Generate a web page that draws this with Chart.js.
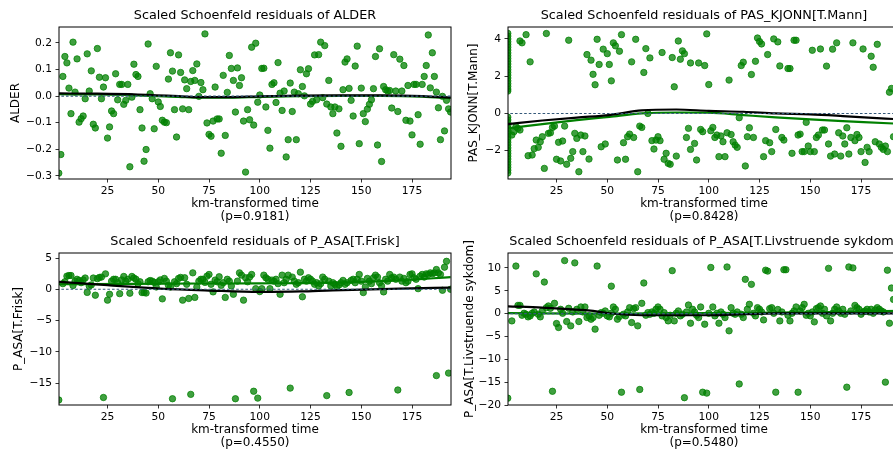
<!DOCTYPE html>
<html><head><meta charset="utf-8">
<script src="https://cdn.jsdelivr.net/npm/chart.js@4.4.1/dist/chart.umd.min.js"></script>
<style>
html,body{margin:0;padding:0;background:#fff;overflow:hidden;width:893px;height:452px;}
canvas{position:absolute;}
</style></head><body>
<canvas id="c0" width="460" height="226" style="left:0;top:0"></canvas>
<canvas id="c1" width="460" height="226" style="left:448px;top:0"></canvas>
<canvas id="c2" width="460" height="226" style="left:0;top:226px"></canvas>
<canvas id="c3" width="460" height="226" style="left:448px;top:226px"></canvas>
<script>
// ---------- tick labels ----------
const xTickVals = [25, 50, 75, 100, 125, 150, 175];
const yTicksAlder = [-0.3, -0.2, -0.1, 0.0, 0.1, 0.2];
const yTicksKjonn = [-2, 0, 2, 4];
const yTicksFrisk = [-15, -10, -5, 0, 5];
const yTicksLivs = [-20, -15, -10, -5, 0, 5, 10];

// ---------- ALDER (top-left) ----------
const alderStripY = [0.23,0.215,0.2,0.19,0.175,0.16,0.15,0.135,0.12,0.11,0.095,0.08,0.07,0.055,0.04,0.03,0.015,0.0,-0.01,-0.025,-0.04,-0.05,-0.065,-0.08,-0.09,-0.105,-0.12,-0.13,-0.145,-0.16,-0.17,-0.185,-0.2,-0.21,-0.225,-0.24,-0.25,-0.265,-0.28,-0.29];
const alderX = [2,3,4,5,6,7,8,9,10,11,12,13,14,15,16,17,18,19,20,21,22,23,24,25,26,27,28,29,30,31,32,33,34,35,36,37,38,39,40,41,42,43,44,45,46,47,48,49,50,51,52,53,54,55,56,57,58,59,60,61,62,63,64,65,66,67,68,69,70,71,72,73,74,75,76,77,78,79,80,81,82,83,84,85,86,87,88,89,90,91,92,93,94,95,96,97,98,99,100,101,102,103,104,105,106,107,108,109,110,111,112,113,114,115,116,117,118,119,120,121,122,123,124,125,126,127,128,129,130,131,132,133,134,135,136,137,138,139,140,141,142,143,144,145,146,147,148,149,150,151,152,153,154,155,156,157,158,159,160,161,162,163,164,165,166,167,168,169,170,171,172,173,174,175,176,177,178,179,180,181,182,183,184,185,186,187,188,189,190,191,192,193,194];
const alderY = [-0.22,0.074,0.149,0.125,0.03,-0.066,0.203,0.015,0.14,-0.098,-0.085,-0.075,-0.01,0.159,0.019,0.095,-0.106,-0.12,0.179,0.071,-0.01,0.034,0.069,-0.158,-0.116,-0.056,-0.066,0.084,-0.014,0.044,0.044,-0.031,-0.016,0.044,-0.266,-0.004,0.12,0.081,0.074,-0.051,-0.12,-0.245,-0.201,0.196,0.009,-0.01,-0.123,0.112,-0.022,-0.039,-0.091,-0.098,-0.1,0.064,0.163,0.094,-0.051,-0.154,0.155,0.089,-0.048,0.061,0.028,-0.051,0.055,0.096,0.059,0.121,-0.001,0.051,0.024,0.234,-0.101,-0.144,-0.151,-0.094,0.034,-0.086,-0.086,-0.215,0.078,-0.148,0.014,0.153,0.104,0.059,-0.06,0.106,0.04,0.069,-0.094,-0.286,-0.051,-0.089,0.184,-0.109,0.199,-0.023,0.004,0.104,0.105,-0.041,-0.129,-0.196,0.044,0.05,-0.024,0.126,0.011,-0.054,0.019,-0.229,-0.164,0.049,-0.058,0.015,-0.164,0.009,0.099,0.036,0.001,0.084,0.103,-0.03,-0.02,0.155,-0.014,0.156,0.203,-0.006,0.19,-0.03,0.059,-0.041,-0.066,-0.041,-0.139,-0.048,-0.189,0.024,0.128,0.14,0.029,-0.016,-0.075,0.113,0.188,-0.179,0.03,-0.066,-0.096,-0.049,-0.031,-0.014,0.028,0.149,-0.184,0.178,-0.246,0.036,0.024,0.019,0.021,-0.045,0.156,0.019,-0.058,0.139,0.019,0.115,-0.091,0.04,-0.094,-0.146,0.044,0.044,-0.07,-0.181,0.044,0.074,0.115,0.23,0.031,0.163,0.074,0.015,-0.044,-0.164,-0.001,-0.131,-0.016,-0.048,-0.06];
const alderLowessX = [1, 20, 40, 60, 70, 85, 100, 120, 140, 160, 180, 194];
const alderLowessY = [0.010, 0.009, 0.006, 0.0, -0.004, -0.004, -0.001, 0.002, 0.003, 0.003, 0.0, -0.006];
const alderGreenY = [0.007, 0.006, 0.003, -0.003, -0.006, -0.006, -0.003, 0.0, 0.001, 0.001, -0.002, -0.008];

// ---------- PAS_KJONN[T.Mann] (top-right) ----------
const kjonnStripY = [4.3,4.15,4.0,3.85,3.7,3.55,3.4,3.25,3.1,2.95,2.8,2.65,2.5,2.35,2.2,2.05,1.9,1.75,1.6,1.45,1.3,1.2,-0.2,-0.35,-0.5,-0.65,-0.8,-0.95,-1.1,-1.25,-1.4,-1.55,-1.7,-1.85,-2.0,-2.15,-2.3,-2.45,-2.6,-2.75,-2.9,-3.05,-3.2];
const kjonnUpX = [7,8,10,12,20,31,40,42,43,44,45,46,48,50,51,52,53,54,56,57,62,64,68,69,71,77,82,83,85,86,87,88,91,95,98,99,100,110,116,117,121,123,124,125,126,129,132,134,135,139,140,142,143,151,155,158,161,163,171,176,180,181,183,189,190];
const kjonnUpY = [3.89,3.79,4.23,2.77,4.29,3.93,3.16,2.86,2.1,1.54,3.98,2.63,3.45,3.21,2.63,1.75,3.79,3.63,3.34,4.23,2.77,3.98,2.2,3.48,2.98,3.27,3.0,1.43,3.89,2.91,3.36,3.21,2.71,2.71,2.57,4.27,1.55,1.79,2.57,2.75,2.09,2.8,4.05,3.86,3.73,3.16,4.0,3.84,2.55,2.41,2.41,3.93,3.93,3.39,3.46,2.54,3.45,3.79,3.79,3.46,3.07,2.48,3.71,1.14,1.34];
const kjonnLoX = [3,4,5,6,7,11,13,14,15,16,17,18,19,21,22,23,24,25,26,27,28,29,30,32,33,34,35,36,37,38,39,41,47,49,55,58,59,60,61,63,65,66,67,70,72,73,74,75,76,78,79,80,81,84,89,90,91,93,94,96,97,101,102,103,104,105,106,107,108,109,111,112,113,114,115,118,119,120,122,127,128,130,131,133,136,137,141,144,145,146,147,148,149,150,152,153,154,156,157,159,160,162,164,165,166,167,168,169,170,172,173,174,175,177,178,179,182,184,185,186,187,188,191];
const kjonnLoY = [-1.16,-0.98,-0.71,-0.8,-0.89,-2.27,-2.23,-1.89,-1.43,-1.82,-1.52,-1.25,-2.95,-1.07,-1.04,-0.75,-0.68,-2.46,-1.55,-2.55,-1.48,-0.68,-2.73,-2.41,-2.05,-1.07,-1.34,-3.13,-1.16,-2.05,-1.21,-2.45,-1.79,-1.64,-2.5,-1.57,-2.46,-1.25,-1.11,-1.29,-3.13,-0.68,-0.75,0.0,-1.46,-1.91,-1.43,-1.25,-1.46,-2.46,-2.14,-2.68,-2.73,-2.29,-1.29,-0.8,-1.93,-1.61,-2.5,-0.86,-0.98,-0.93,-0.75,-1.29,-1.16,-2.32,-1.21,-1.52,-2.32,-1.04,-1.13,-1.52,-1.7,-1.82,-0.23,-2.82,-1.25,-0.77,-1.29,-2.32,-1.46,-1.57,-2.05,-0.86,-1.29,-1.43,-2.14,-1.16,-1.11,-2.05,-2.05,-0.48,-1.75,-2.05,-2.05,-1.29,-1.16,-0.89,-0.89,-1.64,-2.29,-2.18,-1.04,-2.29,-1.21,-1.64,-0.77,-2.18,-1.29,-1.46,-1.13,-1.29,-2.05,-2.63,-1.82,-2.05,-1.52,-1.64,-1.82,-1.93,-1.75,-2.05,-1.25];
const kjonnLowessX = [1, 18, 35, 51, 67, 84, 100, 117, 133, 150, 166, 191, 194];
const kjonnLowessY = [-0.57, -0.38, -0.22, -0.09, 0.16, 0.21, 0.14, 0.09, 0.0, -0.05, -0.14, -0.3, -0.32];
const kjonnGreenY = [-0.8, -0.57, -0.36, -0.18, 0.0, 0.05, 0.04, -0.09, -0.21, -0.32, -0.41, -0.54, -0.56];

// ---------- P_ASA[T.Frisk] (bottom-left) ----------
const friskStripY = [4.5,4.25,4.0,3.75,3.5,3.25,3.0,2.75,2.5,2.25,2.0,1.75,1.5,1.25,1.0,0.75,0.5,0.25,0.0,-0.25,-0.5,-0.75,-1.0,-1.25,-1.5,-1.8,-13.3,-13.6,-13.9,-15.6,-15.9,-16.2,-16.5,-16.8,-17.1,-17.4,-17.7];
const friskX = [3,4,5,6,7,8,9,10,11,12,13,14,15,16,17,18,19,20,21,22,23,24,25,26,27,28,29,30,31,32,33,34,35,36,37,38,39,40,41,42,43,44,45,46,47,48,49,50,51,52,53,54,55,56,57,58,59,60,61,62,63,64,65,66,67,68,69,70,71,72,73,74,75,76,77,78,79,80,81,82,83,84,85,86,87,88,89,90,91,92,93,94,95,96,97,98,99,100,101,102,103,104,105,106,107,108,109,110,111,112,113,114,115,116,117,118,119,120,121,122,123,124,125,126,127,128,129,130,131,132,133,134,135,136,137,138,139,140,141,142,143,144,145,146,147,148,149,150,151,152,153,154,155,156,157,158,159,160,161,162,163,164,165,166,167,168,169,170,171,172,173,174,175,176,177,178,179,180,181,182,183,184,185,186,187,187,188,189,190,191,192,193,194];
const friskY = [0.9,1.2,2.1,2.2,2.2,0.6,1.3,1.6,1.4,1.05,1.5,1.8,-0.5,0.5,0.7,1.8,-0.95,1.7,1.9,1.95,-17.3,2.47,-1.74,-0.8,1.3,1.6,1.6,1.05,-0.7,1.5,2.05,1.3,1.6,-0.63,2.05,1.8,1.6,0.9,1.2,-0.53,-0.53,-0.6,1.2,1.4,1.3,1.1,0.37,1.2,1.5,-1.53,1.74,1.3,0.63,0.37,-17.5,1.2,0.9,1.74,1.9,-1.74,1.84,0.8,-1.47,-16.8,2.63,-1.3,0.37,1.3,1.6,1.6,1.1,2.1,2.37,0.8,-0.42,1.47,1.2,2.0,0.63,1.05,-1.3,1.6,1.3,0.53,-0.8,-17.5,1.3,2.63,2.26,-1.74,1.84,1.2,1.95,2.37,-16.3,0.1,-17.4,-0.37,0.1,2.26,1.84,1.6,0.1,1.47,1.3,1.6,0.9,-0.8,2.26,1.05,1.6,2.26,-15.8,1.95,1.3,0.8,1.05,2.74,-1.2,1.6,1.3,1.84,1.6,1.3,0.8,1.05,0.53,0.9,1.95,1.6,-17.0,1.3,0.53,1.05,0.8,0.37,0.68,1.05,1.42,0.8,1.05,-16.5,1.42,1.6,1.05,1.6,2.37,1.3,-0.53,0.37,1.74,1.3,0.9,1.84,2.26,1.95,1.05,0.53,-0.42,1.6,1.3,2.37,1.84,1.95,1.6,-16.1,1.95,1.3,1.74,1.05,1.3,2.37,2.47,1.84,1.6,0.1,2.1,2.37,1.95,2.47,2.37,2.63,2.47,2.63,3.16,-13.8,2.63,2.37,-0.16,3.53,4.47,-13.4,0.0];
const friskLowessX = [1, 25, 51, 75, 100, 120, 136, 169, 194];
const friskLowessY = [1.2, 0.65, 0.1, -0.2, -0.42, -0.35, -0.16, 0.1, 0.26];
const friskGreenX = [1, 54, 100, 136, 169, 194];
const friskGreenY = [0.8, 0.9, 0.95, 1.05, 1.42, 1.95];

// ---------- P_ASA[T.Livstruende sykdom] (bottom-right) ----------
const livsStripY = [12.0,11.5,11.0,10.5,10.0,9.5,9.0,8.5,8.0,7.5,7.0,6.5,6.0,5.5,5.0,4.5,4.0,3.5,3.0,2.5,2.0,1.5,1.0,0.5,0.0,-0.5,-1.0,-1.5,-2.0,-2.5,-3.0,-3.5,-4.0,-4.5,-12.5,-13.0,-13.5,-15.0,-15.5,-16.0,-16.5,-17.0,-17.5,-18.0,-18.5];
const livsX = [3,5,6,7,8,9,10,11,12,13,14,15,16,17,18,19,20,21,22,23,24,25,26,27,28,29,30,31,32,33,34,35,36,37,38,39,40,41,42,43,44,45,46,47,48,49,50,51,52,52,53,54,55,56,57,58,59,60,61,62,63,64,65,66,67,68,69,70,71,72,73,74,75,76,77,78,79,80,81,82,83,84,85,86,87,88,89,90,91,92,93,94,95,96,97,98,99,100,101,102,103,104,105,106,107,108,109,110,111,112,113,114,115,116,117,118,119,120,121,122,123,124,125,126,127,128,129,130,131,132,133,134,135,136,137,138,139,140,141,142,143,144,145,146,147,148,149,150,151,152,153,154,155,156,157,158,159,160,161,162,163,164,165,166,167,168,169,170,171,172,173,174,175,176,177,178,179,180,181,182,183,184,185,186,187,188,189,190,191];
const livsY = [-1.6,10.4,1.8,1.8,-0.36,0.07,-0.14,-0.72,-0.5,0.07,0.36,8.7,-0.14,-0.72,0.58,6.9,1.3,1.67,1.16,-17.0,2.25,-2.17,-3.04,0.94,0.07,11.6,-1.74,1.16,-2.68,0.36,11.1,0.94,-1.74,1.45,0.36,1.45,-0.87,-0.5,-1.23,-0.87,-3.4,10.4,-0.36,0.22,0.07,0.58,-0.5,-0.72,0.07,6.0,1.45,0.94,-1.23,-0.65,-17.2,-0.14,-0.5,0.36,1.3,-1.96,1.09,1.3,-2.68,-16.6,2.25,6.7,-0.36,0.22,-0.14,0.36,0.07,0.94,1.45,0.94,-0.5,0.22,-0.87,-1.6,-0.36,9.4,-1.6,0.07,0.58,-0.5,-0.14,-18.4,0.36,1.88,-2.1,0.94,0.36,-0.36,-0.87,1.45,-17.2,-2.32,-17.4,0.07,10.1,1.45,-0.5,0.07,-2.1,0.36,-0.14,-0.87,10.2,-3.77,1.3,0.07,-0.14,0.36,-15.4,-0.14,-0.87,7.5,0.94,2.03,6.4,0.07,-0.5,1.3,0.94,0.36,-1.38,9.5,9.3,1.09,1.3,0.07,-17.2,0.9,-1.6,0.36,9.6,9.6,-0.36,-1.6,0.07,0.58,1.45,-17.2,0.58,1.3,2.03,-0.36,0.07,-0.5,0.36,-1.81,1.09,1.3,1.67,0.07,0.94,-0.5,9.9,-1.6,0.07,0.94,1.45,0.58,0.07,0.94,-0.14,-16.1,10.2,0.58,10.0,1.8,1.3,0.94,-0.14,0.36,0.58,0.94,0.36,0.94,0.07,0.8,1.3,0.94,0.58,0.36,-15.0,9.5,-2.1,5.6,3.1];
const livsLowessX = [1, 18, 43, 51, 67, 100, 117, 133, 194];
const livsLowessY = [1.6, 1.3, 0.58, 0.07, -0.36, -0.36, -0.14, 0.07, 0.07];
const livsGreenX = [1, 50, 100, 150, 194];
const livsGreenY = [0.1, 0.0, 0.1, 0.3, 0.6];

const pValues = ['0.9181', '0.8428', '0.4550', '0.5480'];

// ---------- helpers ----------
const FONT = 'DejaVu Sans';
const MINUS = '\u2212';
function pairs(xs, ys) { return xs.map((x, i) => ({x: x, y: ys[i]})); }
function strip(ys) { return ys.map(y => ({x: 1, y: y})); }
function fmt(v, dec) { const s = Math.abs(v).toFixed(dec); return (v < -1e-9 ? MINUS : '') + s; }

function makePanel(id, o) {
  const frame = {
    id: 'frame',
    afterDatasetsDraw(chart) {
      const {ctx, chartArea: a} = chart;
      ctx.save();
      ctx.strokeStyle = '#000'; ctx.lineWidth = 1;
      ctx.strokeRect(a.left, a.top, a.right - a.left, a.bottom - a.top);
      ctx.fillStyle = '#000';
      ctx.font = '12.8px "' + FONT + '"';
      ctx.textAlign = 'center'; ctx.textBaseline = 'middle';
      ctx.fillText(o.title, (a.left + a.right) / 2, a.top - 11.3);
      ctx.restore();
    }
  };
  new Chart(document.getElementById(id), {
    type: 'scatter',
    data: {datasets: [
      {data: [{x: 0, y: 0}, {x: 194, y: 0}], showLine: true, pointRadius: 0, borderColor: '#35597a', borderWidth: 1.1, borderDash: [2.6, 2], order: 0, clip: 0},
      {data: o.black, showLine: true, pointRadius: 0, borderColor: '#000', borderWidth: 2.2, cubicInterpolationMode: 'monotone', order: 1, clip: 0},
      {data: o.green, showLine: true, pointRadius: 0, borderColor: '#008000', borderWidth: 2.2, cubicInterpolationMode: 'monotone', order: 2, clip: 0},
      {data: o.points, pointRadius: 3.2, pointBackgroundColor: 'rgba(0,128,0,0.75)', pointBorderColor: 'rgba(0,128,0,0.75)', pointBorderWidth: 1, borderWidth: 0, order: 3, clip: 0}
    ]},
    options: {
      responsive: false, animation: false, devicePixelRatio: 1,
      events: [],
      layout: {padding: {left: 0, right: o.padRight, top: 27, bottom: 0}},
      plugins: {legend: {display: false}, tooltip: {enabled: false}, title: {display: false}},
      scales: {
        x: {
          type: 'linear', min: 1.1, max: 194.2,
          afterBuildTicks: s => { s.ticks = xTickVals.map(v => ({value: v})); },
          afterFit: s => { s.height = 47; },
          ticks: {font: {family: FONT, size: 10.7}, color: '#000', padding: 2.8, maxRotation: 0, autoSkip: false, callback: v => String(v)},
          grid: {drawOnChartArea: false, drawTicks: true, tickLength: 3.5, color: '#000', lineWidth: 0.8},
          border: {display: false},
          title: {display: true, text: ['km-transformed time', '(p=' + o.p + ')'], color: '#000', font: {family: FONT, size: 12, lineHeight: 1.083}, padding: {top: 0, bottom: 2.2}}
        },
        y: {
          type: 'linear', min: o.ymin, max: o.ymax,
          afterBuildTicks: s => { s.ticks = o.yTicks.map(v => ({value: v})); },
          afterFit: s => { s.width = o.yWidth; },
          ticks: {font: {family: FONT, size: 10.7}, color: '#000', padding: 3.5, autoSkip: false, callback: v => fmt(v, o.dec)},
          grid: {drawOnChartArea: false, drawTicks: true, tickLength: 3.5, color: '#000', lineWidth: 0.8},
          border: {display: false},
          title: {display: true, text: o.yLabel, color: '#000', font: {family: FONT, size: 12}, padding: {top: o.yTitlePad, bottom: 0}}
        }
      }
    },
    plugins: [frame]
  });
}

makePanel('c0', {
  title: 'Scaled Schoenfeld residuals of ALDER', yLabel: 'ALDER', p: pValues[0],
  points: strip(alderStripY).concat(pairs(alderX, alderY)),
  black: pairs(alderLowessX, alderLowessY), green: pairs(alderLowessX, alderGreenY),
  ymin: -0.312, ymax: 0.26, yTicks: yTicksAlder, dec: 1, yWidth: 59, padRight: 9, yTitlePad: 8.8
});
makePanel('c1', {
  title: 'Scaled Schoenfeld residuals of PAS_KJONN[T.Mann]', yLabel: 'PAS_KJONN[T.Mann]', p: pValues[1],
  points: strip(kjonnStripY).concat(pairs(kjonnUpX, kjonnUpY), pairs(kjonnLoX, kjonnLoY)),
  black: pairs(kjonnLowessX, kjonnLowessY), green: pairs(kjonnLowessX, kjonnGreenY),
  ymin: -3.52, ymax: 4.64, yTicks: yTicksKjonn, dec: 0, yWidth: 60, padRight: 8, yTitlePad: 19
});
makePanel('c2', {
  title: 'Scaled Schoenfeld residuals of P_ASA[T.Frisk]', yLabel: 'P_ASA[T.Frisk]', p: pValues[2],
  points: strip(friskStripY).concat(pairs(friskX, friskY)),
  black: pairs(friskLowessX, friskLowessY), green: pairs(friskGreenX, friskGreenY),
  ymin: -18.5, ymax: 5.8, yTicks: yTicksFrisk, dec: 0, yWidth: 59, padRight: 9, yTitlePad: 11.8
});
makePanel('c3', {
  title: 'Scaled Schoenfeld residuals of P_ASA[T.Livstruende sykdom]', yLabel: 'P_ASA[T.Livstruende sykdom]', p: pValues[3],
  points: strip(livsStripY).concat(pairs(livsX, livsY)),
  black: pairs(livsLowessX, livsLowessY), green: pairs(livsGreenX, livsGreenY),
  ymin: -20, ymax: 13.26, yTicks: yTicksLivs, dec: 0, yWidth: 60, padRight: 8, yTitlePad: 14.5
});
</script>
</body></html>
